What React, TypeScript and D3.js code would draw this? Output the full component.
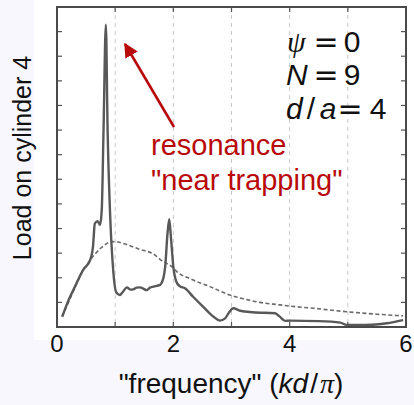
import React from "react";
import * as d3 from "d3";

const solidX = [0.09,0.2,0.3,0.45,0.57,0.62,0.65,0.7,0.74,0.77,0.8,0.84,0.87,0.91,0.96,1.02,1.08,1.14,1.2,1.26,1.31,1.37,1.43,1.49,1.54,1.6,1.66,1.77,1.83,1.86,1.9,1.93,1.96,2.0,2.05,2.11,2.2,2.34,2.51,2.69,2.8,2.89,2.96,3.03,3.15,3.37,3.75,3.83,3.92,4.0,4.5,4.87,4.98,5.32,5.67,5.95];
const solidY = [0.42,1.1,1.6,2.32,2.72,3.3,4.2,4.3,4.15,4.8,8,12.28,8,4.76,2.5,1.4,1.3,1.45,1.61,1.52,1.53,1.6,1.61,1.55,1.5,1.6,1.64,1.71,2.0,2.45,3.8,4.38,3.6,2.45,1.85,1.66,1.57,1.23,0.83,0.42,0.26,0.35,0.6,0.76,0.66,0.6,0.56,0.42,0.25,0.26,0.24,0.18,0.08,0.08,0.15,0.28];
const dashX = [0.09,0.3,0.45,0.57,0.65,0.75,0.83,0.94,1.05,1.2,1.4,1.68,1.77,2.0,2.06,2.3,2.63,2.97,3.2,3.49,3.83,4.0,4.41,4.98,5.5,5.95];
const dashY = [0.42,1.55,2.3,2.72,2.95,3.2,3.35,3.47,3.45,3.35,3.17,2.93,2.75,2.4,2.25,1.95,1.64,1.3,1.15,1.0,0.9,0.85,0.76,0.62,0.52,0.45];
const xTicks = [0,1,2,3,4,5,6];
const xTickLabels = ["0","2","4","6"];
const yTicks = d3.range(0, 14);

export default function App() {
  const x = d3.scaleLinear().domain([0, 6]).range([57, 406]);
  const y = d3.scaleLinear().domain([0, 13]).range([327, 7]);
  const line = d3.line<[number, number]>().x(d => x(d[0])).y(d => y(d[1])).curve(d3.curveMonotoneX);
  const solid = solidX.map((v, i) => [v, solidY[i]] as [number, number]);
  const dashed = dashX.map((v, i) => [v, dashY[i]] as [number, number]);
  const red = "#b80a0a";
  const sans = "'Liberation Sans', Arial, sans-serif";
  const serif = "'Liberation Serif', 'DejaVu Serif', serif";
  const eqFont = "'DejaVu Sans', sans-serif";
  return (
    <svg width={414} height={405} style={{ position: "absolute", left: 0, top: 0 }}>
      <defs>
        <marker id="ah" viewBox="0 0 10 10" refX={9} refY={5} markerWidth={5.5} markerHeight={5.5} orient="auto" markerUnits="strokeWidth">
          <path d="M0,0 L10,5 L0,10 z" fill={red} />
        </marker>
      </defs>
      <rect x={0} y={0} width={414} height={405} fill="#f7f7fd" />
      <rect x={34} y={0} width={380} height={340} fill="#ffffff" />
      {xTicks.slice(1, -1).map(t => (
        <line key={"g" + t} x1={x(t)} x2={x(t)} y1={y(13)} y2={y(0)} stroke="#c8c8c8" strokeWidth={1} strokeDasharray="4,4" />
      ))}
      {yTicks.map(t => (
        <g key={"y" + t}>
          <line x1={x(0)} x2={x(0) + 5} y1={y(t)} y2={y(t)} stroke="#555" strokeWidth={1.2} />
          <line x1={x(6)} x2={x(6) - 5} y1={y(t)} y2={y(t)} stroke="#555" strokeWidth={1.2} />
        </g>
      ))}
      {xTicks.map(t => (
        <g key={"x" + t}>
          <line x1={x(t)} x2={x(t)} y1={y(0)} y2={y(0) - 5} stroke="#555" strokeWidth={1.2} />
          <line x1={x(t)} x2={x(t)} y1={y(13)} y2={y(13) + 5} stroke="#555" strokeWidth={1.2} />
        </g>
      ))}
      <path d={line(dashed) || ""} fill="none" stroke="#6a6a6a" strokeWidth={1.6} strokeDasharray="4,2.5" />
      <path d={line(solid) || ""} fill="none" stroke="#585858" strokeWidth={2.4} strokeLinejoin="round" />
      <rect x={x(0)} y={y(13)} width={x(6) - x(0)} height={y(0) - y(13)} fill="none" stroke="#4a4a4a" strokeWidth={2} />
      {xTickLabels.map(l => (
        <text key={"l" + l} x={x(+l)} y={352} textAnchor="middle" fontFamily={sans} fontSize={24} fill="#111">{l}</text>
      ))}
      <text transform="translate(31,158) rotate(-90)" textAnchor="middle" fontFamily={sans} fontSize={25} fill="#111">Load on cylinder 4</text>
      <text x={231} y={393} textAnchor="middle" fontFamily={sans} fontSize={28} fill="#111">
        "frequency" (<tspan fontStyle="italic">kd</tspan><tspan dx={2}>/</tspan><tspan dx={2} fontFamily={serif} fontStyle="italic">π</tspan>)
      </text>
      <g fontFamily={sans} fontSize={30} fill="#111">
        <text x={287} y={52} fontFamily={serif} fontStyle="italic">ψ</text>
        <text x={326} y={52} textAnchor="middle" fontFamily={eqFont}>=</text>
        <text x={352} y={52} textAnchor="middle">0</text>
        <text x={286} y={85} fontStyle="italic">N</text>
        <text x={326} y={85} textAnchor="middle" fontFamily={eqFont}>=</text>
        <text x={352} y={85} textAnchor="middle">9</text>
        <text x={286} y={119} fontStyle="italic">d</text>
        <text x={311} y={119} textAnchor="middle">/</text>
        <text x={328} y={119} textAnchor="middle" fontStyle="italic">a</text>
        <text x={350} y={119} textAnchor="middle" fontFamily={eqFont}>=</text>
        <text x={378} y={119} textAnchor="middle">4</text>
      </g>
      <line x1={174} y1={127} x2={125} y2={44} stroke={red} strokeWidth={2.6} markerEnd="url(#ah)" />
      <g fontFamily={sans} fontSize={29} fill={red}>
        <text x={151} y={155}>resonance</text>
        <text x={151} y={190}>"near trapping"</text>
      </g>
    </svg>
  );
}
